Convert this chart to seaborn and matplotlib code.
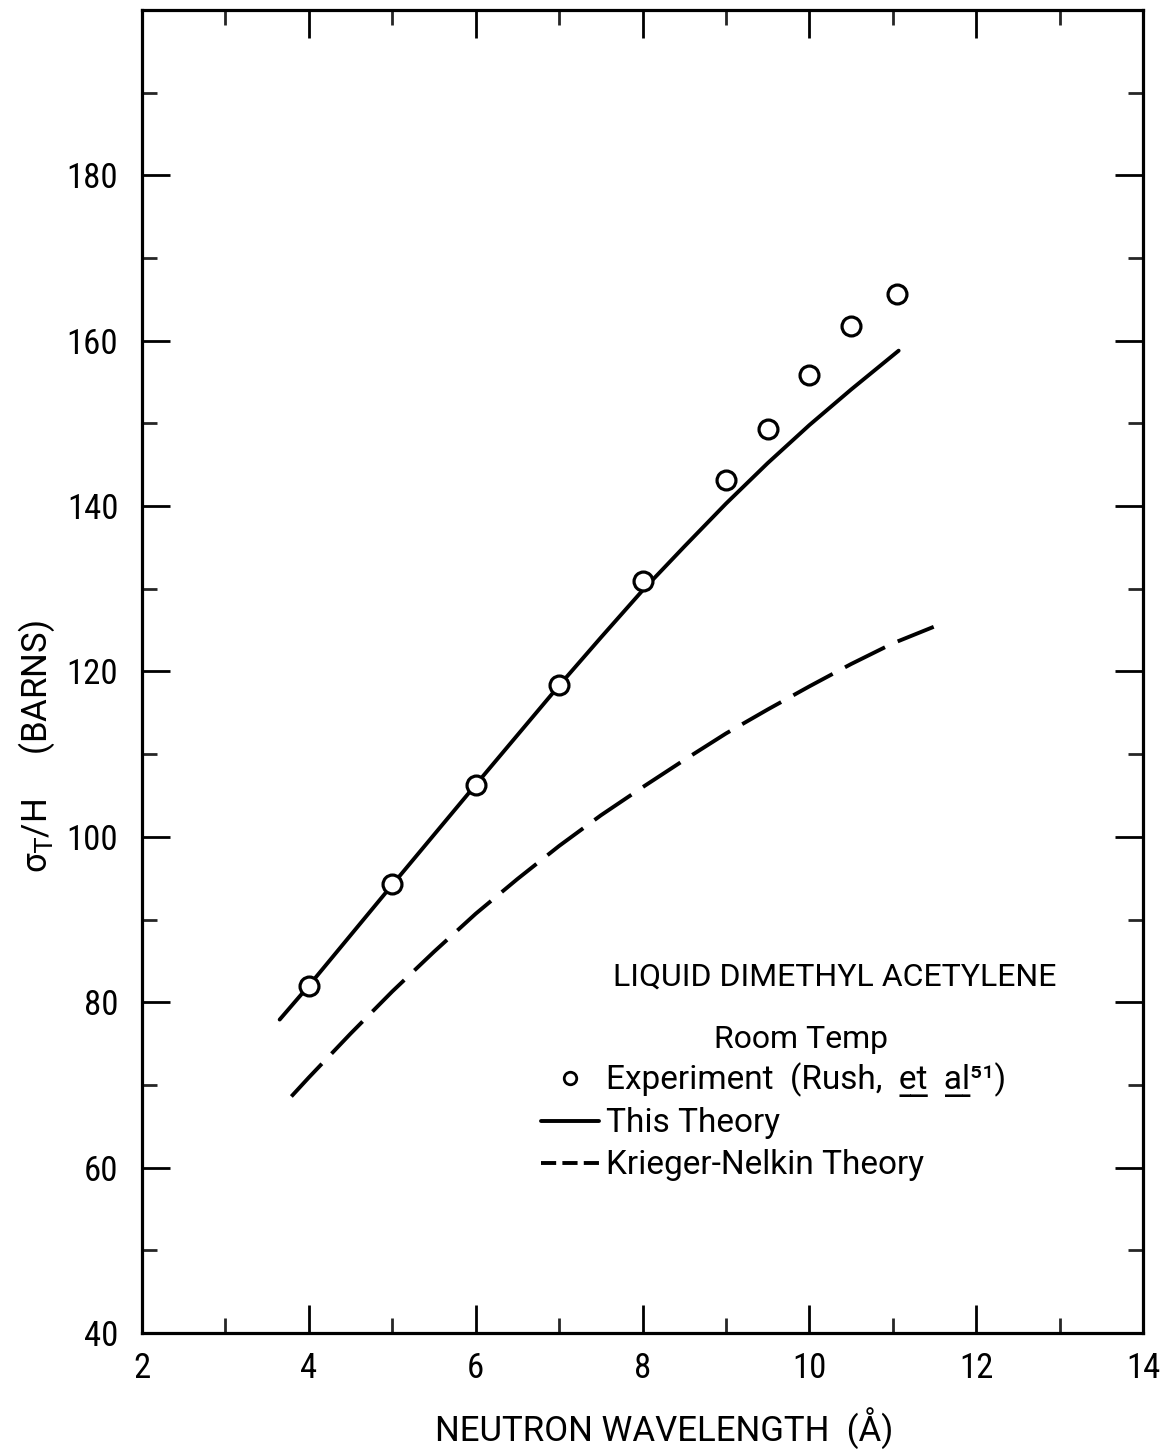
import matplotlib
matplotlib.use("Agg")
import matplotlib.pyplot as plt
from matplotlib.lines import Line2D
from matplotlib.ticker import MultipleLocator
import seaborn as sns
import pandas as pd

# Measured total cross section per hydrogen (barns) vs neutron wavelength (Å)
exp_wavelength = [4.0, 5.0, 6.0, 7.0, 8.0, 9.0, 9.5, 10.0, 10.5, 11.05]
exp_sigma = [82.0, 94.3, 106.3, 118.4, 130.9, 143.1, 149.3, 155.8, 161.8, 165.7]

# This theory
theory_wavelength = [3.65, 4.0, 5.0, 6.0, 7.0, 7.5, 8.0, 8.5, 9.0, 9.5,
                     10.0, 10.5, 11.07]
theory_sigma = [77.9, 82.0, 94.2, 106.3, 118.3, 124.1, 129.8, 135.1, 140.3, 145.2,
                149.8, 154.1, 158.8]

# Krieger-Nelkin theory
kn_wavelength = [3.79, 4.0, 4.5, 5.0, 5.5, 6.0, 6.5, 7.0, 7.5, 8.0,
                 8.5, 9.0, 9.5, 10.0, 10.5, 11.0, 11.49]
kn_sigma = [68.6, 70.9, 76.2, 81.3, 86.1, 90.7, 94.9, 98.9, 102.6, 106.0,
            109.3, 112.5, 115.4, 118.2, 120.9, 123.4, 125.4]

x_ticks = [2, 4, 6, 8, 10, 12, 14]
y_ticks = [40, 60, 80, 100, 120, 140, 160, 180]

sns.set_theme(style="ticks")
plt.rcParams["font.family"] = ["Roboto Condensed", "DejaVu Sans"]
plt.rcParams["mathtext.fontset"] = "dejavusans"
plt.rcParams["text.color"] = "black"
plt.rcParams["axes.labelcolor"] = "black"
label_font = ["Roboto", "DejaVu Sans"]

fig = plt.figure(figsize=(11.67, 14.52), dpi=100)
ax = fig.add_axes([0.1217, 0.0820, 0.8578, 0.9111])

exp_df = pd.DataFrame({"wl": exp_wavelength, "sigma": exp_sigma})
th_df = pd.DataFrame({"wl": theory_wavelength, "sigma": theory_sigma})
kn_df = pd.DataFrame({"wl": kn_wavelength, "sigma": kn_sigma})

sns.lineplot(data=th_df, x="wl", y="sigma", sort=False, estimator=None,
             color="black", linewidth=2.8, ax=ax)
sns.lineplot(data=kn_df, x="wl", y="sigma", sort=False, estimator=None,
             color="black", linewidth=2.8, ax=ax)
ax.lines[-1].set_dashes([11.5, 3.6])
sns.scatterplot(data=exp_df, x="wl", y="sigma", marker="o", s=185,
                facecolor="white", edgecolor="black", linewidth=2.3,
                zorder=5, ax=ax)

ax.set_xlim(2, 14)
ax.set_ylim(40, 200)
ax.set_xticks(x_ticks)
ax.set_yticks(y_ticks)
ax.xaxis.set_minor_locator(MultipleLocator(1))
ax.yaxis.set_minor_locator(MultipleLocator(10))
ax.tick_params(which="major", direction="in", length=20, width=2,
               top=True, right=True, labelsize=25, colors="black")
ax.tick_params(axis="y", which="major", pad=17)
ax.tick_params(axis="x", which="major", pad=14)
ax.tick_params(which="minor", direction="in", length=11, width=2,
               top=True, right=True)
for s in ax.spines.values():
    s.set_linewidth(2.3)
    s.set_color("black")

ax.set_xlabel("NEUTRON WAVELENGTH  (Å)", fontsize=25, family=label_font)
ax.set_ylabel("σ$_\\mathsf{T}$/H     (BARNS)", fontsize=25, family=label_font)
ax.xaxis.set_label_coords(0.522, -0.056)
ax.yaxis.set_label_coords(-0.085, 0.443)

# Annotation block
ax.text(0.692, 0.269, "LIQUID DIMETHYL ACETYLENE", transform=ax.transAxes,
        ha="center", va="center", fontsize=23, family=label_font)
ax.text(0.658, 0.2215, "Room Temp", transform=ax.transAxes,
        ha="center", va="center", fontsize=23, family=label_font)

handles = [
    Line2D([], [], marker="o", linestyle="none", markersize=9,
           markerfacecolor="white", markeredgecolor="black", markeredgewidth=2),
    Line2D([], [], color="black", linewidth=2.8),
    Line2D([], [], color="black", linewidth=2.8, linestyle=(0, (3.9, 1.6))),
]
labels = [
    "Experiment  (Rush,  e\u0332t\u0332  a\u0332l\u0332\u2075\u00b9)",
    "This Theory",
    "Krieger-Nelkin Theory",
]
ax.legend(handles, labels, loc="upper left", bbox_to_anchor=(0.3986, 0.2045),
          frameon=False, borderpad=0, borderaxespad=0,
          prop={"family": label_font, "size": 24},
          handlelength=1.75, handletextpad=0.2, labelspacing=0.3)

fig.savefig("out.png", dpi=100, facecolor="white")
